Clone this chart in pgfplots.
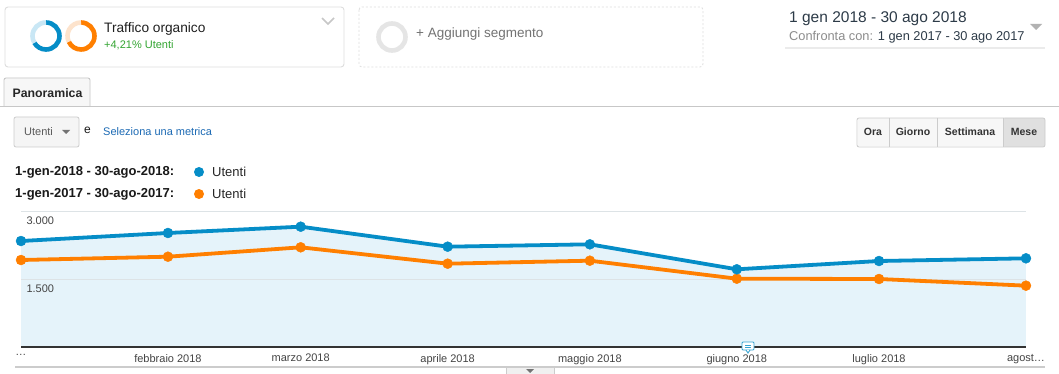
\documentclass[border=0pt]{standalone}
\usepackage{fontspec}
\setmainfont{Liberation Sans}
\usepackage{pgfplots}
\pgfplotsset{compat=1.18}
\definecolor{gablue}{HTML}{058DC7}
\definecolor{gaorange}{HTML}{FF7F00}
\definecolor{gafill}{HTML}{E5F3FA}
\definecolor{gridgray}{HTML}{DDE3E6}
\definecolor{axisdark}{HTML}{333333}
\definecolor{ticktext}{HTML}{444444}
\definecolor{boxgray}{HTML}{DDDDDD}
\definecolor{lightblue}{HTML}{C9E7F5}
\definecolor{lightorange}{HTML}{FDE3CC}
\definecolor{gagreen}{HTML}{33A532}
\definecolor{linkblue}{HTML}{1C6AB4}
\definecolor{datetext}{HTML}{2D3B48}
\pgfplotstableread{
x y
0   2338
31  2515
59  2654
90  2213
120 2265
151 1714
181 1897
212 1956
}\blue
\pgfplotstableread{
x y
0   1919
31  1992
59  2199
90  1838
120 1904
151 1507
181 1500
212 1353
}\orange
\pgfplotsset{gageom/.style={
  at={(21pt,-347pt)}, anchor=south west,
  width=1005pt, height=136pt, scale only axis,
  xmin=0, xmax=212, ymin=0, ymax=3000, clip=false}}
\begin{document}
\begin{tikzpicture}
\path[use as bounding box] (0pt,0pt) rectangle (1059pt,-374pt);
\fill[white] (0pt,0pt) rectangle (1059pt,-374pt);
\begin{axis}[gageom, hide axis]
\addplot[fill=gafill, draw=none] table[x=x,y=y]{\blue} \closedcycle;
\end{axis}
\begin{axis}[
  gageom,
  separate axis lines,
  axis x line*=bottom, axis y line*=left,
  x axis line style={draw=axisdark, line width=1.4pt, -},
  y axis line style={draw=none},
  major tick length=0pt,
  ymajorgrids, grid style={draw=gridgray, line width=0.9pt},
  xtick={0,31,59,90,120,151,181,212},
  xticklabels={…,febbraio 2018,marzo 2018,aprile 2018,maggio 2018,giugno 2018,luglio 2018,agost…},
  xticklabel style={font=\fontsize{11}{13}\selectfont, text=ticktext, yshift=-3.5pt},
  ytick={1500,3000},
  yticklabels={1.500,3.000},
  yticklabel style={font=\fontsize{11}{13}\selectfont, text=ticktext, anchor=north west, xshift=2pt, yshift=-2pt},
]
\addplot[gaorange, line width=3.8pt, mark=*, mark size=5pt, mark options={solid, line width=0.4pt}] table[x=x,y=y]{\orange};
\addplot[gablue, line width=3.8pt, mark=*, mark size=5pt, mark options={solid, line width=0.4pt}] table[x=x,y=y]{\blue};
\end{axis}
% donuts
\draw[gablue, line width=4.6pt] (46pt,-36pt) ++(90:13.5pt) arc[start angle=90, end angle=-150, radius=13.5pt];
\draw[lightblue, line width=4.6pt] (46pt,-36pt) ++(90:13.5pt) arc[start angle=90, end angle=210, radius=13.5pt];
\draw[gaorange, line width=4.6pt] (81pt,-36pt) ++(90:13.5pt) arc[start angle=90, end angle=-155, radius=13.5pt];
\draw[lightorange, line width=4.6pt] (81pt,-36pt) ++(90:13.5pt) arc[start angle=90, end angle=205, radius=13.5pt];
\begin{scope}[x=1pt,y=-1pt]
% segment box 1
\draw[boxgray, line width=0.9pt, rounded corners=3pt] (5,7) rectangle (344,67);
\node[anchor=west, inner sep=0, text=black!88, font=\fontsize{13.7}{15}\selectfont] at (104,29) {Traffico organico};
\node[anchor=west, inner sep=0, text=gagreen, font=\fontsize{11}{13}\selectfont] at (104,45) {+4,21\% Utenti};
\draw[black!22, line width=1.6pt] (322,18) -- (328,24) -- (334,18);
% segment box 2
\draw[boxgray, line width=0.8pt, dash pattern=on 2pt off 2pt, rounded corners=3pt] (359,7) rectangle (703,67);
\draw[black!10, line width=4.6pt] (392,37) circle[radius=13.5];
\node[anchor=west, inner sep=0, text=black!55, font=\fontsize{13.5}{15}\selectfont] at (416,34) {+ Aggiungi segmento};
% dates
\node[anchor=west, inner sep=0, text=datetext, font=\fontsize{15.5}{17}\selectfont] at (789,19) {1 gen 2018 - 30 ago 2018};
\node[anchor=west, inner sep=0, font=\fontsize{12.8}{14}\selectfont] at (789,37) {\textcolor{black!45}{Confronta con:} \textcolor{datetext}{1 gen 2017 - 30 ago 2017}};
\fill[black!30] (1030,24) -- (1042,24) -- (1036,30) -- cycle;
\draw[black!8, line width=1.6pt] (785,48) -- (1045,48);
% tab
\draw[black!22, line width=0.9pt] (0,106) -- (1059,106);
\filldraw[fill=black!3, draw=black!22, line width=0.9pt] (4,106) -- (4,80) [rounded corners=2pt] -- (4,78) -- (90,78) [sharp corners] -- (90,106);
\node[inner sep=0, text=black!85, font=\bfseries\fontsize{12.3}{14}\selectfont] at (47.5,93) {Panoramica};
% metric dropdown
\filldraw[fill=black!4, draw=black!20, line width=0.8pt, rounded corners=2pt] (14,117) rectangle (79,147);
\node[anchor=west, inner sep=0, text=black!65, font=\fontsize{11}{13}\selectfont] at (24,132) {Utenti};
\fill[black!55] (62,130) -- (70,130) -- (66,134) -- cycle;
\node[anchor=west, inner sep=0, text=black!90, font=\fontsize{12}{14}\selectfont] at (84,130) {e};
\node[anchor=west, inner sep=0, text=linkblue, font=\fontsize{11}{13}\selectfont] at (103,132) {Seleziona una metrica};
% legend
\node[anchor=west, inner sep=0, text=black!90, font=\bfseries\fontsize{13}{15}\selectfont] at (15,172) {1-gen-2018 - 30-ago-2018:};
\node[anchor=west, inner sep=0, text=black!90, font=\bfseries\fontsize{13}{15}\selectfont] at (15,194) {1-gen-2017 - 30-ago-2017:};
\fill[gablue] (199,172) circle[radius=5];
\fill[gaorange] (199,194) circle[radius=5];
\node[anchor=west, inner sep=0, text=black!85, font=\fontsize{13}{15}\selectfont] at (212,172) {Utenti};
\node[anchor=west, inner sep=0, text=black!85, font=\fontsize{13}{15}\selectfont] at (212,194) {Utenti};
% time buttons
\fill[black!12, rounded corners=2pt] (1003,118) rectangle (1045,147);
\fill[black!3] (857.5,118.5) rectangle (1003,146.5);
\draw[black!20, line width=0.8pt, rounded corners=2pt] (857,118) rectangle (1045,147);
\draw[black!20, line width=0.8pt] (889,118) -- (889,147) (937,118) -- (937,147) (1003,118) -- (1003,147);
\node[inner sep=0, text=black!80, font=\bfseries\fontsize{10.5}{12}\selectfont] at (873,132) {Ora};
\node[inner sep=0, text=black!80, font=\bfseries\fontsize{10.5}{12}\selectfont] at (913,132) {Giorno};
\node[inner sep=0, text=black!80, font=\bfseries\fontsize{10.5}{12}\selectfont] at (970,132) {Settimana};
\node[inner sep=0, text=black!80, font=\bfseries\fontsize{10.5}{12}\selectfont] at (1024,132) {Mese};
% bottom line and handle
\draw[black!20, line width=1.4pt] (15,367) -- (1045,367);
\filldraw[fill=black!6, draw=black!20, line width=0.8pt] (506,367) rectangle (554,376);
\fill[black!55] (526,369) -- (534,369) -- (530,373) -- cycle;
% annotation icon
\filldraw[fill=white, draw=gablue!80, line width=0.9pt, rounded corners=1pt] (742,342) rectangle (754,350);
\filldraw[fill=white, draw=gablue!80, line width=0.9pt] (746,350) -- (748,353) -- (750,350);
\draw[gablue!80, line width=0.7pt] (745,345) -- (751,345) (745,347.5) -- (751,347.5);
\end{scope}
\end{tikzpicture}
\end{document}
